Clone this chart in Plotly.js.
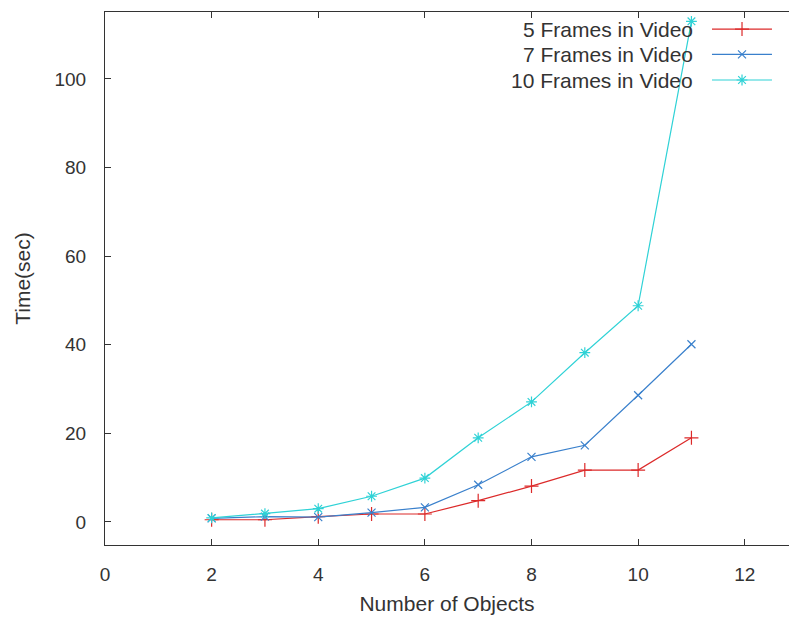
<!DOCTYPE html>
<html>
<head>
<meta charset="utf-8">
<script src="https://cdn.plot.ly/plotly-3.0.1.min.js"></script>
<style>html,body{margin:0;padding:0;background:#fff;}#chart{width:789px;height:617px;}</style>
</head>
<body>
<div id="chart"></div>
<script>
// ---- data ----
const objects = [2, 3, 4, 5, 6, 7, 8, 9, 10, 11];
const frames5 = [0.5, 0.5, 1.2, 1.8, 1.8, 4.8, 8.1, 11.7, 11.7, 19.0];
const frames7 = [0.8, 1.2, 1.1, 2.1, 3.3, 8.4, 14.7, 17.3, 28.6, 40.1];
const frames10 = [0.9, 1.9, 3.0, 5.8, 9.9, 19.0, 27.1, 38.2, 48.8, 113.0];
const seriesNames = ["5 Frames in Video", "7 Frames in Video", "10 Frames in Video"];
const xTicks = [0, 2, 4, 6, 8, 10, 12];
const yTicks = [0, 20, 40, 60, 80, 100];

const colors = ["#dc2a2a", "#3a80cc", "#2fd2d6"];
const symbols = ["cross-thin-open", "x-thin-open", "asterisk-open"];
const msizes = [10, 8, 9];
const series = [frames5, frames7, frames10];
const FONT = "Liberation Sans, Arial, sans-serif";
const TXT = "#333333";

const traces = series.map((ys, i) => ({
  x: objects, y: ys, type: "scatter", mode: "lines+markers", name: seriesNames[i],
  line: {color: colors[i], width: 1.2},
  marker: {symbol: symbols[i], size: msizes[i], color: colors[i], line: {color: colors[i], width: 1.2}},
  showlegend: false, hoverinfo: "skip"
}));

// legend (gnuplot style: text right-aligned, sample to the right)
const legendY = [0.968, 0.9206, 0.8724];
const sampleX = [0.8874, 0.9313, 0.9751];
const annotations = [];
seriesNames.forEach((n, i) => {
  traces.push({
    x: sampleX, y: [legendY[i], legendY[i], legendY[i]], xaxis: "x2", yaxis: "y2",
    type: "scatter", mode: "lines", line: {color: colors[i], width: 1.2},
    showlegend: false, hoverinfo: "skip"
  });
  traces.push({
    x: [sampleX[1]], y: [legendY[i]], xaxis: "x2", yaxis: "y2",
    type: "scatter", mode: "markers",
    marker: {symbol: symbols[i], size: msizes[i], color: colors[i], line: {color: colors[i], width: 1.2}},
    showlegend: false, hoverinfo: "skip"
  });
  annotations.push({
    xref: "paper", yref: "paper", x: 0.8626, y: legendY[i], xanchor: "right", yanchor: "middle",
    text: n, showarrow: false, font: {family: FONT, size: 21, color: TXT}
  });
});

const layout = {
  width: 789, height: 617,
  margin: {l: 105, r: 0, t: 12, b: 72},
  paper_bgcolor: "#fff", plot_bgcolor: "#fff",
  font: {family: FONT, size: 19, color: TXT},
  showlegend: false,
  xaxis: {
    range: [0, 12.83], tickvals: xTicks, ticktext: xTicks.map(String),
    ticks: "inside", ticklen: 6, tickcolor: "#333", showgrid: false, zeroline: false,
    showline: true, linecolor: "#333", linewidth: 1, mirror: "ticks",
    ticklabelstandoff: 12,
    tickfont: {family: FONT, size: 19, color: TXT},
    title: {text: "Number of Objects", font: {family: FONT, size: 21, color: TXT}, standoff: 12}
  },
  yaxis: {
    range: [-5.2, 115.1], tickvals: yTicks, ticktext: yTicks.map(String),
    ticks: "inside", ticklen: 6, tickcolor: "#333", showgrid: false, zeroline: false,
    showline: true, linecolor: "#333", linewidth: 1,
    ticklabelstandoff: 14,
    tickfont: {family: FONT, size: 19, color: TXT},
    title: {text: "Time(sec)", font: {family: FONT, size: 21, color: TXT}, standoff: 18}
  },
  xaxis2: {overlaying: "x", range: [0, 1], visible: false, fixedrange: true},
  yaxis2: {overlaying: "y", range: [0, 1], visible: false, fixedrange: true},
  annotations: annotations
};

Plotly.newPlot("chart", traces, layout, {displayModeBar: false, staticPlot: true});
</script>
</body>
</html>
